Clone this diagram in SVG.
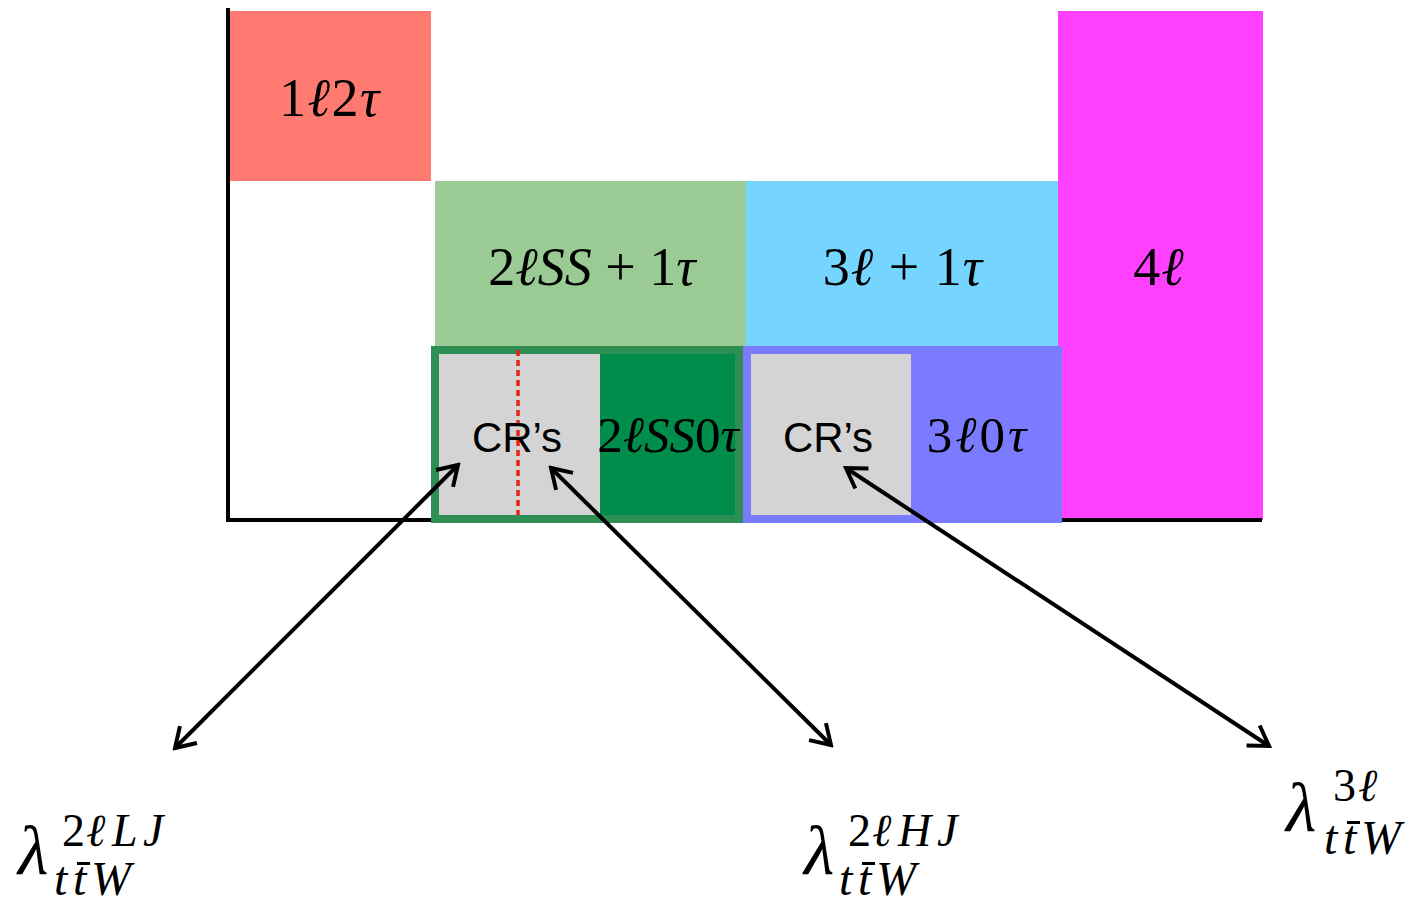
<svg xmlns="http://www.w3.org/2000/svg" width="1418" height="907" viewBox="0 0 1418 907">
<style>
.m{font-family:"Liberation Serif","DejaVu Serif",serif;fill:#000}
.i{font-style:italic}
.big{font-size:54px}
.mid{font-size:51px}
.sup{font-size:46px}
.sub{font-size:48px;font-style:italic}
.lam{font-size:70px;font-style:italic}
.cr{font-family:"Liberation Sans",Arial,sans-serif;font-size:42px;fill:#000}
.arr{stroke:#000;stroke-width:4;fill:none}
.bar{fill:#000}
</style>
<defs>
<marker id="hd" viewBox="0 0 30 30" refX="27" refY="15" markerWidth="30" markerHeight="30" markerUnits="userSpaceOnUse" orient="auto-start-reverse">
<path d="M8,3 L27,15 L8,27" fill="none" stroke="#000" stroke-width="4"/>
</marker>
</defs>
<rect width="1418" height="907" fill="#fff"/>

<g id="r1l2t">
<rect x="230" y="11" width="201" height="170" fill="#FF7B72"/>
<text class="m big" x="330" y="116" text-anchor="middle" letter-spacing="1.5">1<tspan class="i">ℓ</tspan>2<tspan class="i">τ</tspan></text>
</g>
<g id="r2lss1t">
<rect x="435" y="181" width="311" height="166" fill="#9ACB94"/>
<text class="m big" x="592" y="285" text-anchor="middle">2<tspan class="i">ℓSS</tspan> + 1<tspan class="i">τ</tspan></text>
</g>
<g id="r3l1t">
<rect x="746" y="181" width="312" height="166" fill="#75D5FF"/>
<text class="m big" x="903" y="285" text-anchor="middle" letter-spacing="1">3<tspan class="i">ℓ</tspan> + 1<tspan class="i">τ</tspan></text>
</g>
<g id="r4l">
<rect x="1058" y="11" width="205" height="509" fill="#FF40FF"/>
<text class="m big" x="1159" y="285" text-anchor="middle" letter-spacing="1">4<tspan class="i">ℓ</tspan></text>
</g>
<g id="r2lss0t">
<rect x="435" y="350" width="304" height="169" fill="#008C4B" stroke="#2E8F55" stroke-width="8"/>
<rect x="439" y="354" width="161" height="161" fill="#D4D4D4"/>
<line x1="518" y1="350" x2="518" y2="515" stroke="#E8231A" stroke-width="3.5" stroke-dasharray="6,4"/>
<text class="cr" x="517" y="452" text-anchor="middle">CR’s</text>
<text class="m mid" x="668" y="452" text-anchor="middle">2<tspan class="i">ℓSS</tspan>0<tspan class="i">τ</tspan></text>
</g>
<g id="r3l0t">
<rect x="747" y="350" width="311" height="169" fill="#7B7BFF" stroke="#7B7BFF" stroke-width="8"/>
<rect x="751" y="354" width="160" height="161" fill="#D4D4D4"/>
<text class="cr" x="828" y="452" text-anchor="middle">CR’s</text>
<text class="m mid" x="978" y="452" text-anchor="middle" letter-spacing="3">3<tspan class="i">ℓ</tspan>0<tspan class="i">τ</tspan></text>
</g>
<g id="axes">
<line x1="228" y1="8" x2="228" y2="522" stroke="#000" stroke-width="4"/>
<line x1="226" y1="520" x2="431" y2="520" stroke="#000" stroke-width="4"/>
<line x1="1062" y1="520" x2="1262" y2="520" stroke="#000" stroke-width="4"/>
</g>

<g id="connectors">
<line class="arr" x1="458" y1="465" x2="175" y2="748" marker-start="url(#hd)" marker-end="url(#hd)"/>
<line class="arr" x1="551" y1="468" x2="831" y2="745" marker-start="url(#hd)" marker-end="url(#hd)"/>
<line class="arr" x1="846" y1="468" x2="1269" y2="746" marker-start="url(#hd)" marker-end="url(#hd)"/>
</g>

<g id="lamLJ">
<text class="m lam" x="18" y="874">λ</text>
<text class="m sup" x="62" y="846">2<tspan class="i" x="86">ℓ</tspan><tspan class="i" x="112">L</tspan><tspan class="i" x="143">J</tspan></text>
<text class="m sub" x="54" y="895">t<tspan x="73">t</tspan><tspan x="91">W</tspan></text>
<rect class="bar" x="77" y="862" width="13" height="3"/>
</g>
<g id="lamHJ">
<text class="m lam" x="804" y="874">λ</text>
<text class="m sup" x="848" y="846">2<tspan class="i" x="872">ℓ</tspan><tspan class="i" x="898">H</tspan><tspan class="i" x="937">J</tspan></text>
<text class="m sub" x="839" y="895">t<tspan x="858">t</tspan><tspan x="876">W</tspan></text>
<rect class="bar" x="862" y="862" width="13" height="3"/>
</g>
<g id="lam3l">
<text class="m lam" x="1286" y="831">λ</text>
<text class="m sup" x="1333" y="801">3<tspan class="i" x="1358">ℓ</tspan></text>
<text class="m sub" x="1324" y="854">t<tspan x="1343">t</tspan><tspan x="1361">W</tspan></text>
<rect class="bar" x="1347" y="821" width="13" height="3"/>
</g>
</svg>
